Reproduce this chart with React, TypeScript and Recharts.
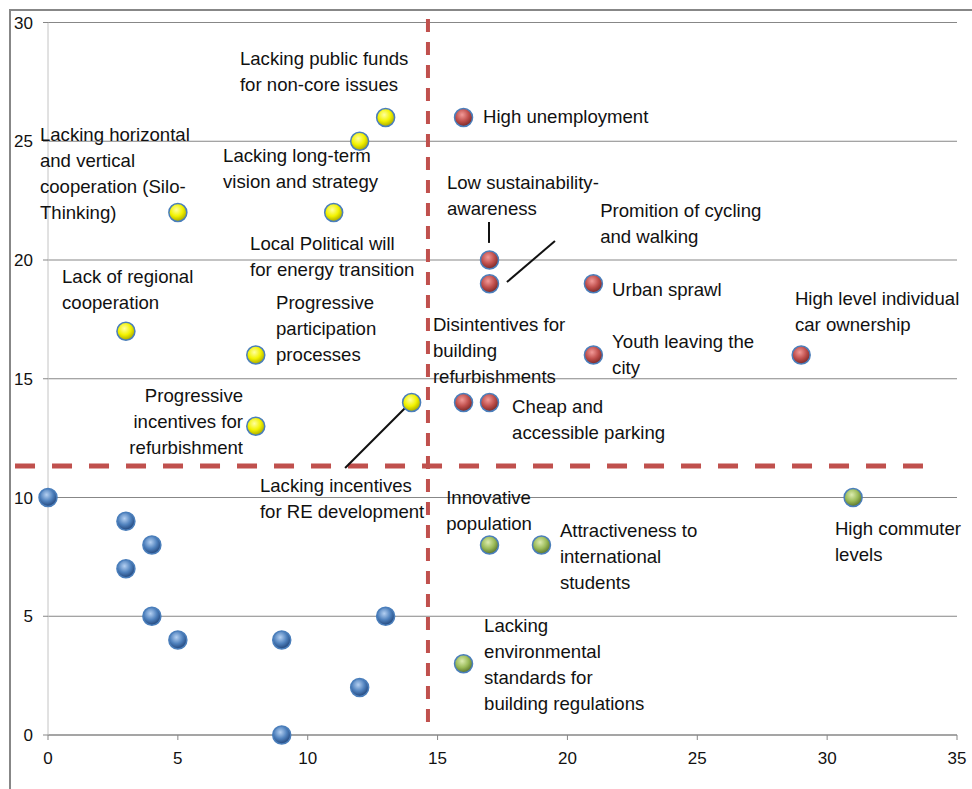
import { ScatterChart, Scatter, XAxis, YAxis, CartesianGrid, ReferenceLine, ReferenceDot } from 'recharts'

const xTicks = [0, 5, 10, 15, 20, 25, 30, 35]
const yTicks = [0, 5, 10, 15, 20, 25, 30]

// quadrant groups
const yellowPoints = [
  { x: 13, y: 26 }, { x: 12, y: 25 }, { x: 5, y: 22 }, { x: 11, y: 22 },
  { x: 3, y: 17 }, { x: 8, y: 16 }, { x: 8, y: 13 }, { x: 14, y: 14 },
]
const redPoints = [
  { x: 16, y: 26 }, { x: 17, y: 20 }, { x: 17, y: 19 }, { x: 21, y: 19 },
  { x: 21, y: 16 }, { x: 29, y: 16 }, { x: 16, y: 14 }, { x: 17, y: 14 },
]
const greenPoints = [
  { x: 31, y: 10 }, { x: 17, y: 8 }, { x: 19, y: 8 }, { x: 16, y: 3 },
]
const bluePoints = [
  { x: 0, y: 10 }, { x: 3, y: 9 }, { x: 4, y: 8 }, { x: 3, y: 7 }, { x: 4, y: 5 },
  { x: 5, y: 4 }, { x: 9, y: 4 }, { x: 13, y: 5 }, { x: 12, y: 2 }, { x: 9, y: 0 },
]

// text annotations, anchored at the middle of their first line
const labels = [
  { x: 7.39, y: 28.5, lines: ['Lacking public funds', 'for non-core issues'] },
  { x: -0.31, y: 25.31, lines: ['Lacking horizontal', 'and vertical', 'cooperation (Silo-', 'Thinking)'] },
  { x: 6.74, y: 24.42, lines: ['Lacking long-term', 'vision and strategy'] },
  { x: 7.78, y: 20.72, lines: ['Local Political will', 'for energy transition'] },
  { x: 0.54, y: 19.33, lines: ['Lack of regional', 'cooperation'] },
  { x: 8.78, y: 18.23, lines: ['Progressive', 'participation', 'processes'] },
  { x: 7.51, y: 14.32, lines: ['Progressive', 'incentives for', 'refurbishment'], anchor: 'end' },
  { x: 8.16, y: 10.53, lines: ['Lacking incentives', 'for RE development'] },
  { x: 16.75, y: 26.06, lines: ['High unemployment'] },
  { x: 15.36, y: 23.28, lines: ['Low sustainability-', 'awareness'] },
  { x: 21.26, y: 22.1, lines: ['Promition of cycling', 'and walking'] },
  { x: 21.72, y: 18.78, lines: ['Urban sprawl'] },
  { x: 28.76, y: 18.4, lines: ['High level individual', 'car ownership'] },
  { x: 14.82, y: 17.31, lines: ['Disintentives for', 'building', 'refurbishments'] },
  { x: 21.72, y: 16.59, lines: ['Youth leaving the', 'city'] },
  { x: 17.87, y: 13.85, lines: ['Cheap and', 'accessible parking'] },
  { x: 15.33, y: 10.02, lines: ['Innovative', 'population'] },
  { x: 19.71, y: 8.63, lines: ['Attractiveness to', 'international', 'students'] },
  { x: 30.3, y: 8.72, lines: ['High commuter', 'levels'] },
  { x: 16.79, y: 4.63, lines: ['Lacking', 'environmental', 'standards for', 'building regulations'] },
]

const connectors = [
  [{ x: 11.44, y: 11.24 }, { x: 13.75, y: 13.77 }],
  [{ x: 17.67, y: 19.07 }, { x: 19.52, y: 20.8 }],
  [{ x: 16.98, y: 21.6 }, { x: 16.98, y: 20.72 }],
]

const dividerX = 14.63
const dividerXSpan = [0.55, 30.5]
const dividerY = 11.33
const dividerYSpan = [-1.27, 33.69]

const FONT = '"Liberation Sans", Arial, sans-serif'

function ball(fill: string) {
  return (props: any) => (
    <circle cx={props.cx} cy={props.cy} r={9} fill={`url(#${fill})`} stroke="#4a7ebb" strokeWidth={1.5} />
  )
}

function label(lines: string[], anchor?: string) {
  return (props: any) => (
    <text
      x={props.cx}
      y={props.cy}
      fontSize={18.6}
      fontFamily={FONT}
      fill="#111"
      textAnchor={anchor || 'start'}
      dominantBaseline="central"
    >
      {lines.map((l, i) => (
        <tspan key={i} x={props.cx} dy={i === 0 ? 0 : 26}>{l}</tspan>
      ))}
    </text>
  )
}

function Gradients() {
  const g = [
    ['ballYellow', '#ffffa0', '#f2f200', '#a8a800'],
    ['ballRed', '#f29a98', '#c0504d', '#7a2826'],
    ['ballGreen', '#dcecb0', '#9bbb59', '#5a742a'],
    ['ballBlue', '#b4d0f2', '#4f81bd', '#22457a'],
  ]
  return (
    <svg width={0} height={0} style={{ position: 'absolute' }}>
      <defs>
        {g.map(([id, a, b, c]) => (
          <radialGradient key={id} id={id} cx="42%" cy="35%" r="65%">
            <stop offset="0%" stopColor={a} />
            <stop offset="55%" stopColor={b} />
            <stop offset="100%" stopColor={c} />
          </radialGradient>
        ))}
      </defs>
    </svg>
  )
}

export default function App() {
  return (
    <div style={{ position: 'absolute', left: 0, top: 0, width: 972, height: 789, overflow: 'hidden', background: '#fff' }}>
      <Gradients />
      <div style={{ position: 'absolute', left: 9, top: 9, width: 1100, height: 1100, borderLeft: '2px solid #878787', borderTop: '2px solid #878787' }} />
      <div style={{ position: 'absolute', left: 0, top: 0 }}>
        <ScatterChart width={972} height={789} margin={{ top: 22.5, right: 15, bottom: 24, left: 0 }}>
          <CartesianGrid vertical={false} stroke="#878787" strokeWidth={1} />
          <XAxis
            type="number"
            dataKey="x"
            domain={[0, 35]}
            ticks={xTicks}
            height={30}
            stroke="#878787"
            tickSize={5}
            tickMargin={12}
            tick={{ fill: '#111', fontSize: 17, fontFamily: FONT }}
          />
          <YAxis
            type="number"
            dataKey="y"
            domain={[0, 30]}
            ticks={yTicks}
            width={48}
            axisLine={{ stroke: '#c4c4c4' }}
            tickLine={{ stroke: '#878787' }}
            tickSize={5}
            tickMargin={10}
            tick={{ fill: '#111', fontSize: 17, fontFamily: FONT }}
          />
          <ReferenceLine
            segment={[{ x: dividerX, y: dividerXSpan[0] }, { x: dividerX, y: dividerXSpan[1] }]}
            stroke="#c0504d"
            strokeWidth={4}
            strokeDasharray="13 10"
            ifOverflow="visible"
          />
          <ReferenceLine
            segment={[{ x: dividerYSpan[0], y: dividerY }, { x: dividerYSpan[1], y: dividerY }]}
            stroke="#c0504d"
            strokeWidth={5}
            strokeDasharray="20 17"
            ifOverflow="visible"
          />
          {connectors.map((seg, i) => (
            <ReferenceLine key={'c' + i} segment={seg} stroke="#111" strokeWidth={2} ifOverflow="visible" />
          ))}
          <Scatter data={yellowPoints} shape={ball('ballYellow')} isAnimationActive={false} />
          <Scatter data={redPoints} shape={ball('ballRed')} isAnimationActive={false} />
          <Scatter data={greenPoints} shape={ball('ballGreen')} isAnimationActive={false} />
          <Scatter data={bluePoints} shape={ball('ballBlue')} isAnimationActive={false} />
          {labels.map((l, i) => (
            <ReferenceDot key={'l' + i} x={l.x} y={l.y} r={0} ifOverflow="visible" shape={label(l.lines, l.anchor)} />
          ))}
        </ScatterChart>
      </div>
    </div>
  )
}
